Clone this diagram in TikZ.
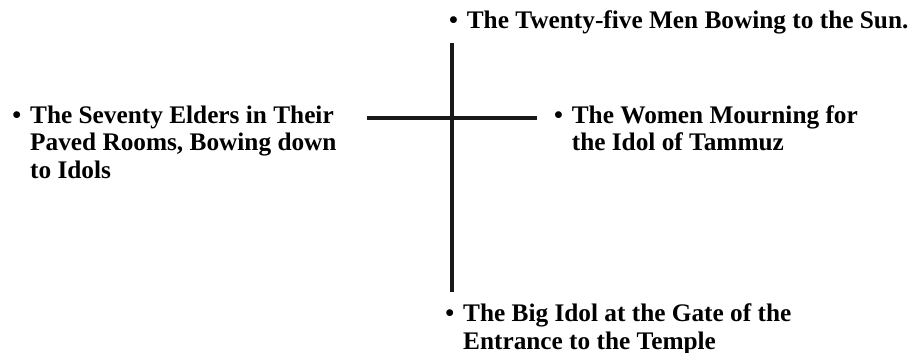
\documentclass[tikz,border=0pt]{standalone}
\usepackage{fontspec}
\setmainfont{Liberation Serif}
\begin{document}
\begin{tikzpicture}[x=1pt,y=-1pt,
  lbl/.style={anchor=base west,inner sep=0pt,font=\fontsize{25.3}{27.5}\selectfont\bfseries},
  bar/.style={line width=4pt,black!90}]
\useasboundingbox (0,0) rectangle (914,353);
\coordinate (vt) at (451.5,43);
\coordinate (vb) at (451.5,292);
\coordinate (hl) at (367,118.5);
\coordinate (hr) at (537,118.5);
\draw[bar] (vt) -- (vb);
\draw[bar] (hl) -- (hr);
\node[lbl] (top) at (448.8,28.5) {\begin{tabular}[t]{@{}l@{\hspace{9pt}}l@{}}\textbullet & The Twenty-five Men Bowing to the Sun.\end{tabular}};
\node[lbl] (left) at (12.1,123.5) {\begin{tabular}[t]{@{}l@{\hspace{9pt}}l@{}}\textbullet & The Seventy Elders in Their\\ & Paved Rooms, Bowing down\\ & to Idols\end{tabular}};
\node[lbl] (right) at (553.8,123.5) {\begin{tabular}[t]{@{}l@{\hspace{9pt}}l@{}}\textbullet & The Women Mourning for\\ & the Idol of Tammuz\end{tabular}};
\node[lbl] (bottom) at (445.1,321.5) {\begin{tabular}[t]{@{}l@{\hspace{9pt}}l@{}}\textbullet & The Big Idol at the Gate of the\\ & Entrance to the Temple\end{tabular}};
\end{tikzpicture}
\end{document}
